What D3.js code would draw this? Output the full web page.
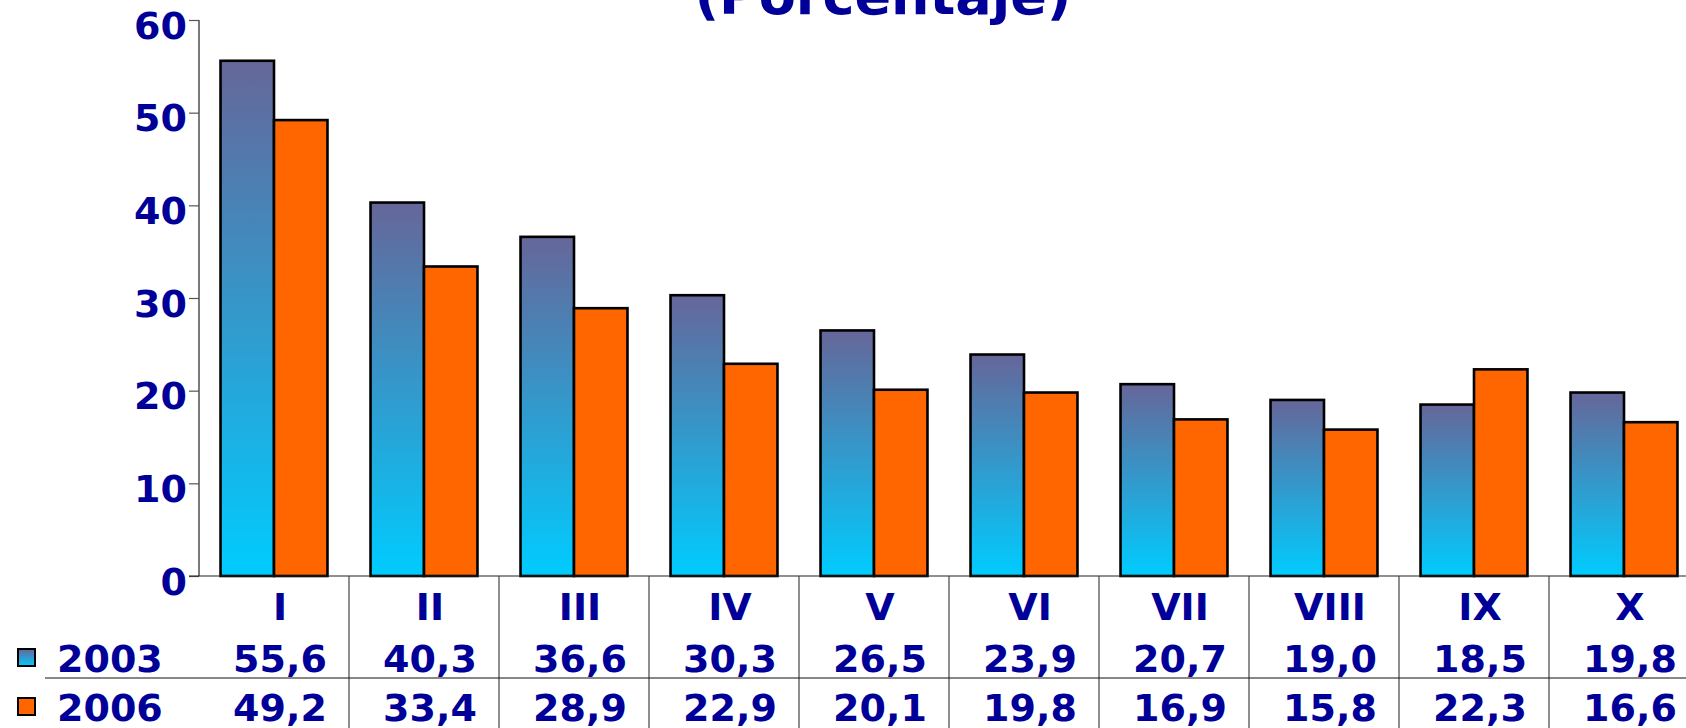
<!DOCTYPE html>
<html><head><meta charset="utf-8">
<script src="https://cdn.jsdelivr.net/npm/d3@7"></script>
<style>html,body{margin:0;padding:0;background:#fff;overflow:hidden}</style>
</head><body>
<svg id="c" width="1686" height="728"></svg>
<script>
const categories = ["I","II","III","IV","V","VI","VII","VIII","IX","X"];
const seriesNames = ["2003","2006"];
const values2003 = [55.6,40.3,36.6,30.3,26.5,23.9,20.7,19.0,18.5,19.8];
const values2006 = [49.2,33.4,28.9,22.9,20.1,19.8,16.9,15.8,22.3,16.6];
const yTicks = [0,10,20,30,40,50,60];
const titleText = "(Porcentaje)";

const svg = d3.select("#c");
const navy = "#000099";
const font = "DejaVu Sans, Verdana, sans-serif";
const fs = 38;

const defs = svg.append("defs");
const grad = defs.append("linearGradient").attr("id","g03")
  .attr("x1",0).attr("y1",0).attr("x2",0).attr("y2",1);
grad.append("stop").attr("offset","0%").attr("stop-color","#666699");
grad.append("stop").attr("offset","100%").attr("stop-color","#00CCFF");

const x0 = d3.scaleBand().domain(categories).range([199,1699])
  .paddingInner(0.287).paddingOuter(0.1435);
const x1 = d3.scaleBand().domain(seriesNames).range([0,x0.bandwidth()]);
const y = d3.scaleLinear().domain([0,60]).range([576,20]);

// title (partly clipped)
svg.append("text").attr("x",883).attr("y",14).attr("text-anchor","middle")
  .attr("font-family",font).attr("font-weight","bold").attr("font-size",54)
  .attr("fill",navy).text(titleText);

// y axis
const yAxis = svg.append("g").attr("transform","translate(199,0)")
  .call(d3.axisLeft(y).tickValues(yTicks).tickSize(10).tickPadding(2).tickFormat(d3.format("d")));
yAxis.select(".domain").attr("stroke","#222").attr("stroke-width",1.2).attr("d","M0,20V576");
yAxis.selectAll(".tick line").attr("stroke","#555").attr("stroke-width",1.2);
yAxis.selectAll(".tick text").attr("font-family",font).attr("font-weight","bold")
  .attr("font-size",fs).attr("fill",navy).attr("dy",18);

// bars
const rows = categories.map((c,i)=>({c, v:[values2003[i], values2006[i]]}));
const g = svg.append("g");
const grp = g.selectAll("g.grp").data(rows).join("g")
  .attr("transform",d=>`translate(${x0(d.c)},0)`);
grp.selectAll("rect").data(d=>d.v.map((v,k)=>({k,v}))).join("rect")
  .attr("x",d=>x1(seriesNames[d.k]))
  .attr("y",d=>y(d.v))
  .attr("width",x1.bandwidth())
  .attr("height",d=>y(0)-y(d.v))
  .attr("fill",d=>d.k===0?"url(#g03)":"#FF6600")
  .attr("stroke","#000").attr("stroke-width",2.6);

// baseline
svg.append("line").attr("x1",189).attr("x2",1686).attr("y1",576).attr("y2",576)
  .attr("stroke","#222").attr("stroke-width",1.2);

// data table
const dividers = categories.slice(1).map(c=>x0(c)-x0.step()*x0.paddingInner()/2);
svg.selectAll("line.div").data(dividers).join("line").attr("class","div")
  .attr("x1",d=>d).attr("x2",d=>d).attr("y1",576).attr("y2",728)
  .attr("stroke","#444").attr("stroke-width",1.2);
svg.append("line").attr("x1",45).attr("x2",1686).attr("y1",678).attr("y2",678)
  .attr("stroke","#111").attr("stroke-width",1.2);

const cx = c => x0(c)+x0.bandwidth()/2+6;
svg.selectAll("text.cat").data(categories).join("text").attr("class","cat")
  .attr("x",cx).attr("y",620).attr("text-anchor","middle")
  .attr("font-family",font).attr("font-weight","bold").attr("font-size",fs)
  .attr("fill",navy).text(d=>d);

const fmt = v => v.toFixed(1).replace(".",",");
[values2003, values2006].forEach((vals,k)=>{
  const yy = k===0 ? 672 : 721;
  svg.selectAll(`text.val${k}`).data(vals).join("text").attr("class",`val${k}`)
    .attr("x",(d,i)=>cx(categories[i])).attr("y",yy).attr("text-anchor","middle")
    .attr("font-family",font).attr("font-weight","bold").attr("font-size",fs)
    .attr("fill",navy).text(fmt);
  svg.append("text").attr("x",57).attr("y",yy)
    .attr("font-family",font).attr("font-weight","bold").attr("font-size",fs)
    .attr("fill",navy).text(seriesNames[k]);
  svg.append("rect").attr("x",18).attr("y",yy-23).attr("width",17).attr("height",17)
    .attr("fill",k===0?"url(#g03)":"#FF6600").attr("stroke","#000").attr("stroke-width",2);
});
</script>
</body></html>
